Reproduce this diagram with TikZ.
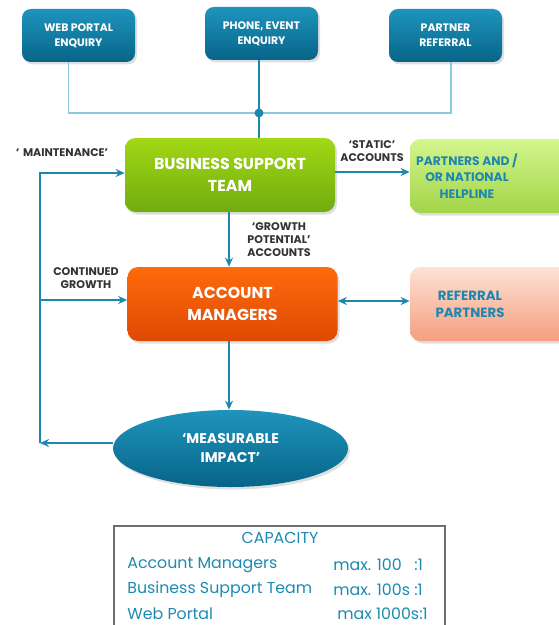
\documentclass[tikz,border=0pt]{standalone}
\usepackage{fontspec}
\setmainfont{Poppins}
\usepackage{tikz}
\usetikzlibrary{shapes.geometric,arrows.meta,shadows}
\definecolor{tealtop}{RGB}{30,148,188}
\definecolor{tealbot}{RGB}{8,100,136}
\definecolor{linkblue}{RGB}{30,135,175}
\definecolor{linklight}{RGB}{140,200,222}
\definecolor{greentop}{RGB}{162,216,22}
\definecolor{greenbot}{RGB}{112,172,14}
\definecolor{limetop}{RGB}{212,246,142}
\definecolor{limebot}{RGB}{162,212,72}
\definecolor{orangetop}{RGB}{255,106,12}
\definecolor{orangebot}{RGB}{222,74,4}
\definecolor{salmontop}{RGB}{253,226,212}
\definecolor{salmonbot}{RGB}{245,158,128}
\definecolor{captext}{RGB}{28,138,178}
\definecolor{capframe}{RGB}{110,110,110}

\begin{document}
\begin{tikzpicture}[
    shade/.style={drop shadow={opacity=0.25, shadow xshift=0.04cm, shadow yshift=-0.05cm}},
    srcbox/.style={rectangle, rounded corners=5pt, top color=tealtop, bottom color=tealbot,
                   minimum width=2.26cm, minimum height=1.06cm, align=center, text=white,
                   font=\fontsize{6.2}{8.5}\selectfont\bfseries, shade},
    teambox/.style={rectangle, rounded corners=6pt, minimum width=4.2cm, minimum height=1.48cm,
                    align=center, text=white, font=\fontsize{9}{12.5}\selectfont\bfseries, shade},
    sidebox/.style={rectangle, rounded corners=6pt, minimum width=3.2cm, minimum height=1.48cm, shade},
    sidetxt/.style={align=center, text=linkblue, font=\fontsize{7}{9.3}\selectfont\bfseries},
    lbl/.style={align=center, text=black!80, font=\fontsize{6.3}{7.4}\selectfont\bfseries},
    feed/.style={line width=0.9pt, linklight},
    arr/.style={-{Stealth[length=1.8mm, width=1.6mm]}, line width=1.1pt, linkblue},
    captxt/.style={text=captext, font=\fontsize{9}{10}\selectfont, inner sep=0pt}
]
\useasboundingbox (0,0) rectangle (11.16,-12.5);

% enquiry sources
\node[srcbox] (web) at (1.57,-0.71) {WEB PORTAL\\ENQUIRY};
\node[srcbox] (phone) at (5.23,-0.67) {PHONE, EVENT\\ENQUIRY};
\node[srcbox] (partner) at (8.91,-0.71) {PARTNER\\REFERRAL};

% teams
\node[teambox, top color=greentop, bottom color=greenbot] (bst) at (4.60,-3.50)
      {BUSINESS SUPPORT\\TEAM};
\node[teambox, top color=orangetop, bottom color=orangebot] (am) at (4.65,-6.08)
      {ACCOUNT\\MANAGERS};
\node[ellipse, top color=tealtop, bottom color=tealbot, minimum width=4.7cm, minimum height=1.54cm,
      align=center, text=white, font=\fontsize{8}{10.8}\selectfont\bfseries, shade] (impact)
      at (4.61,-8.97) {`MEASURABLE\\IMPACT'};

% partners on the right, running off the page
\node[sidebox, top color=limetop, bottom color=limebot] (helpline) at (9.80,-3.52) {};
\node[sidetxt] (helptxt) at (9.34,-3.52) {PARTNERS AND /\\OR NATIONAL\\HELPLINE};
\node[sidebox, top color=salmontop, bottom color=salmonbot] (referral) at (9.80,-6.08) {};
\node[sidetxt, font=\fontsize{7.6}{9.8}\selectfont\bfseries] (reftxt) at (9.40,-6.08) {REFERRAL\\PARTNERS};

% feeds into the support team
\coordinate (hub) at (5.18,-2.26);
\draw[feed] ([xshift=-0.2cm]web.south) |- (hub);
\draw[feed] ([xshift=0.11cm]partner.south) |- (hub);
\draw[line width=1.1pt, linkblue] (hub |- phone.south) -- (hub) -- (hub |- bst.north);
\fill[linkblue] (hub) circle (0.09);

% account flows
\draw[arr] (bst.east |- 0,-3.44) -- (helpline.west |- 0,-3.44);
\draw[arr] (bst.south -| 4.58,0) -- (am.north -| 4.58,0);
\draw[arr, {Stealth[length=1.8mm, width=1.6mm]}-{Stealth[length=1.8mm, width=1.6mm]}]
      (am.east |- 0,-6.02) -- (referral.west |- 0,-6.02);
\draw[arr] (am.south -| 4.58,0) -- (impact.north -| 4.58,0);

% feedback loop
\coordinate (loopbot) at (0.80,-8.86);
\coordinate (loopmid) at (0.80,-6.00);
\coordinate (looptop) at (0.80,-3.46);
\draw[arr] (impact.west |- loopbot) -- (loopbot);
\draw[arr] (loopbot) -- (looptop) -- (looptop -| bst.west);
\draw[arr] (loopmid) -- (loopmid -| am.west);

% flow labels
\node[lbl] (maint) at (1.24,-3.06) {`\,\,MAINTENANCE'};
\node[lbl] (static) at (7.44,-3.02) {`STATIC'\\ACCOUNTS};
\node[lbl] (growth) at (5.58,-4.80) {`GROWTH\\POTENTIAL'\\ACCOUNTS};
\node[lbl] (contd) at (1.72,-5.56) {CONTINUED\\GROWTH};

% capacity table
\node[rectangle, draw=capframe, line width=0.8pt, minimum width=6.62cm, minimum height=2.1cm]
      (cap) at (5.59,-11.57) {};
\node[captxt] (captitle) at (5.60,-10.76) {CAPACITY};
\node[captxt, anchor=west] (rowam) at (2.54,-11.30) {Account Managers};
\node[captxt, anchor=west] (rowbst) at (2.54,-11.80) {Business Support Team};
\node[captxt, anchor=west] (rowweb) at (2.54,-12.28) {Web Portal};
\node[captxt, anchor=west] (maxam) at (6.66,-11.30) {max. 100 \ \ :1};
\node[captxt, anchor=west] (maxbst) at (6.66,-11.80) {max. 100s :1};
\node[captxt, anchor=west] (maxweb) at (6.74,-12.28) {max 1000s:1};
\end{tikzpicture}
\end{document}
